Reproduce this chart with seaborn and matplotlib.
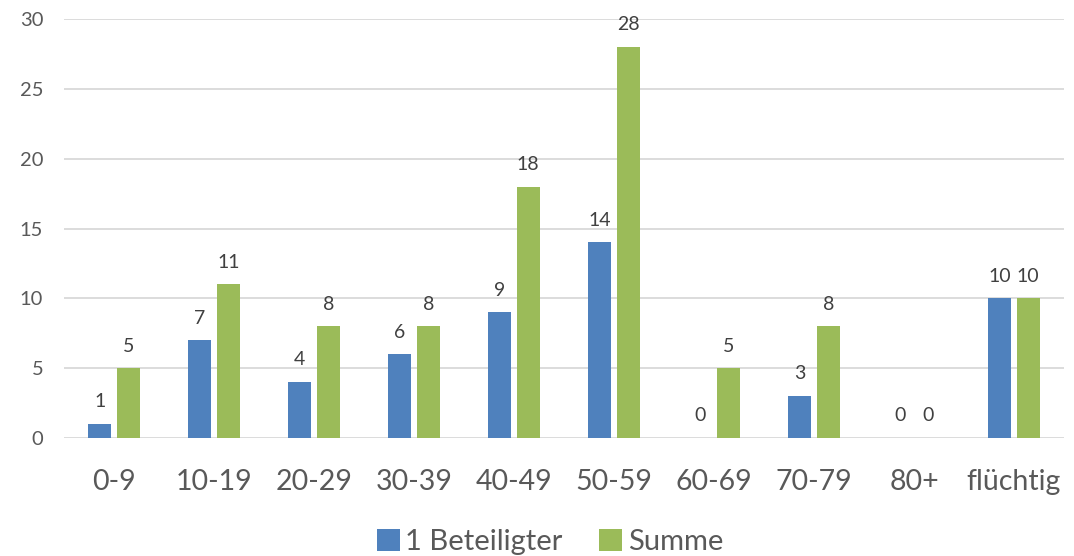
import matplotlib
matplotlib.use("Agg")
import matplotlib.pyplot as plt
import seaborn as sns
import pandas as pd

categories = ["0-9", "10-19", "20-29", "30-39", "40-49", "50-59",
              "60-69", "70-79", "80+", "flüchtig"]
beteiligter = [1, 7, 4, 6, 9, 14, 0, 3, 0, 10]
summe = [5, 11, 8, 8, 18, 28, 5, 8, 0, 10]
series_names = ["1 Beteiligter", "Summe"]
colors = ["#4F81BD", "#9BBB59"]
text_color = "#595959"

df = pd.DataFrame({
    "Alter": categories * 2,
    "Anzahl": beteiligter + summe,
    "Reihe": [series_names[0]] * len(categories) + [series_names[1]] * len(categories),
})

sns.set_theme(style="white")
plt.rcParams["font.family"] = ["Lato", "DejaVu Sans"]

fig = plt.figure(figsize=(10.74, 5.56), dpi=100)
ax = fig.add_axes([64 / 1074, 1 - 438 / 556, 1000 / 1074, 419 / 556])

sns.barplot(data=df, x="Alter", y="Anzahl", hue="Reihe", order=categories,
            hue_order=series_names, palette=colors, width=0.57, gap=0.21,
            saturation=1, linewidth=0, ax=ax, legend=True)

ax.set_ylim(0, 30)
ax.set_xlim(-0.5, len(categories) - 0.5)
ax.set_yticks(range(0, 31, 5))
ax.yaxis.grid(True, color="#D9D9D9", linewidth=1.3)
ax.set_axisbelow(True)
for s in ax.spines.values():
    s.set_visible(False)
ax.set_xlabel("")
ax.set_ylabel("")
ax.tick_params(axis="y", length=0, pad=15, labelsize=14.5, labelcolor=text_color)
ax.tick_params(axis="x", length=0, pad=22, labelsize=20.5, labelcolor=text_color)

for cont in ax.containers:
    for bar in cont:
        h = bar.get_height()
        ax.annotate(f"{int(round(h))}", (bar.get_x() + bar.get_width() / 2, h),
                    xytext=(0, 12), textcoords="offset points",
                    ha="center", va="baseline", fontsize=14, color="#404040")

handles, labels = ax.get_legend_handles_labels()
ax.legend_.remove()
fig.legend(handles, labels, loc="center", bbox_to_anchor=(550 / 1074, 1 - 542 / 556),
           ncol=2, frameon=False, fontsize=21, labelcolor=text_color,
           handlelength=0.78, handleheight=0.78, handletextpad=0.2,
           columnspacing=1.25, borderpad=0.1)

fig.savefig("out.png", dpi=100)
